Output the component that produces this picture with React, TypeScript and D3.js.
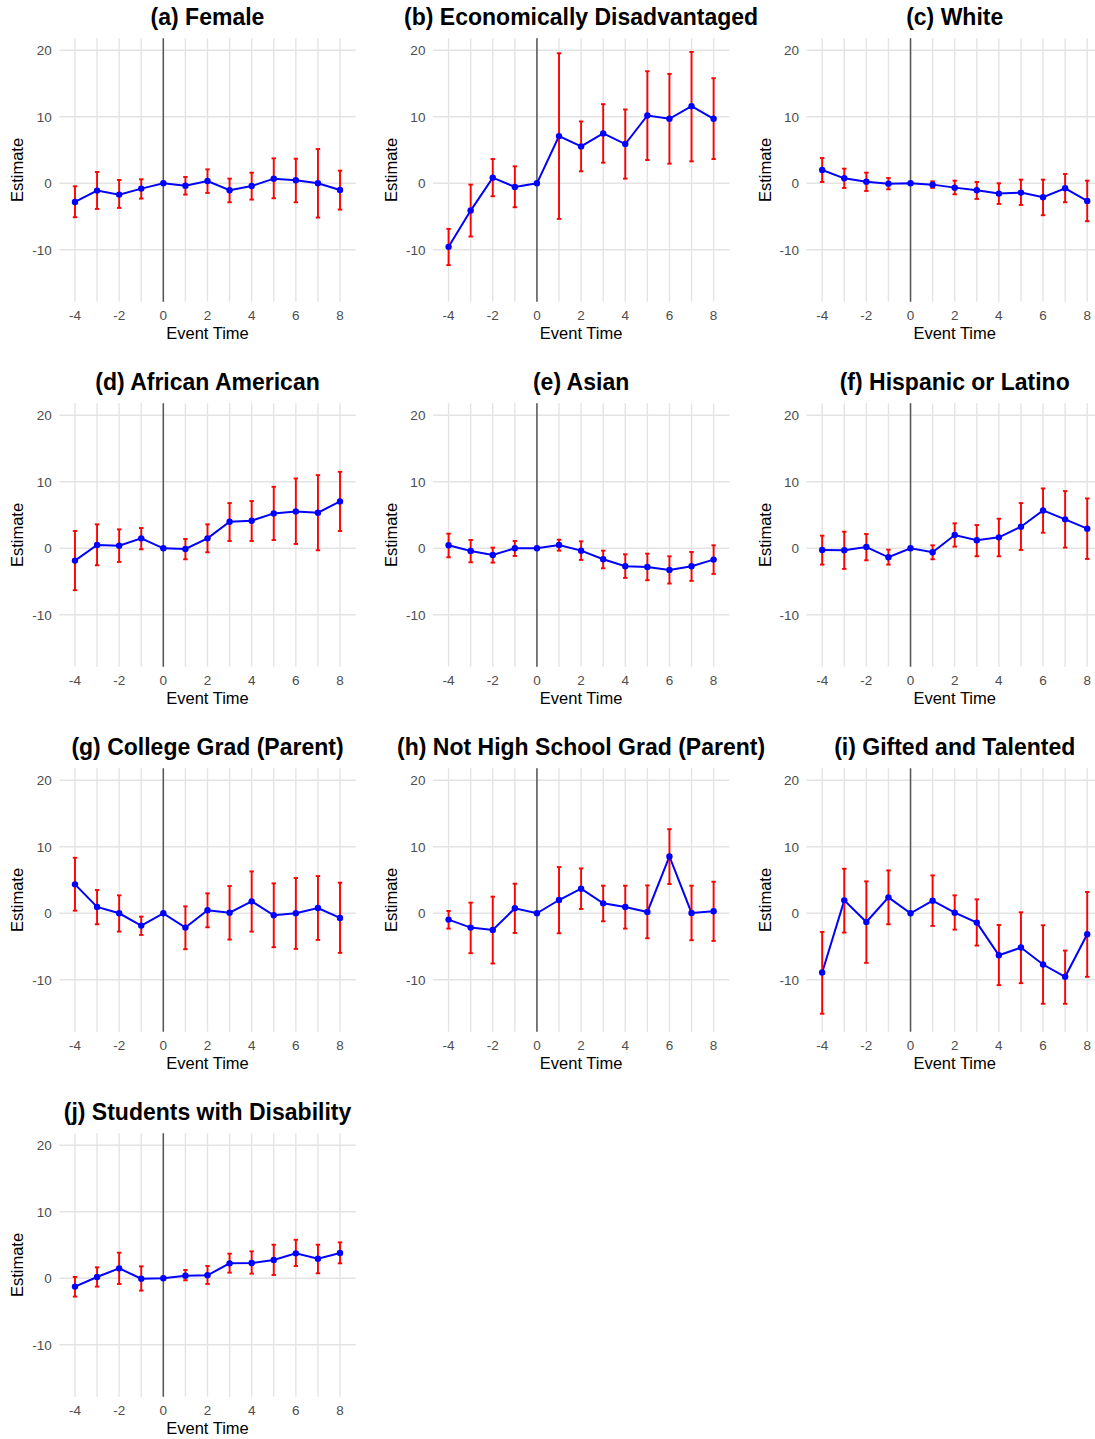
import React from 'react';
import * as d3 from 'd3';

// event-study estimates, one set of arrays per subgroup
const eventTimes = [-4, -3, -2, -1, 0, 1, 2, 3, 4, 5, 6, 7, 8];
const xTicks = [-4, -2, 0, 2, 4, 6, 8];
const yTicks = [-10, 0, 10, 20];

const femaleEst = [-2.8, -1.1, -1.7, -0.8, 0, -0.35, 0.35, -1.05, -0.4, 0.7, 0.45, 0.0, -1.0];
const femaleLo = [-5.1, -3.85, -3.7, -2.3, 0, -1.7, -1.45, -2.85, -2.45, -2.25, -2.85, -5.15, -3.95];
const femaleHi = [-0.45, 1.7, 0.5, 0.6, 0, 0.95, 2.1, 0.7, 1.6, 3.75, 3.7, 5.15, 1.9];

const econEst = [-9.55, -4.1, 0.85, -0.55, 0, 7.1, 5.55, 7.5, 5.9, 10.2, 9.7, 11.6, 9.7];
const econLo = [-12.3, -8.0, -1.95, -3.6, 0, -5.35, 1.8, 3.1, 0.7, 3.5, 2.95, 3.3, 3.65];
const econHi = [-6.85, -0.2, 3.65, 2.55, 0, 19.55, 9.3, 11.9, 11.1, 16.85, 16.45, 19.75, 15.8];

const whiteEst = [2.0, 0.75, 0.25, -0.05, 0, -0.2, -0.65, -1.05, -1.55, -1.4, -2.1, -0.75, -2.65];
const whiteLo = [0.2, -0.7, -1.15, -0.9, 0, -0.7, -1.65, -2.35, -3.1, -3.25, -4.8, -2.85, -5.7];
const whiteHi = [3.8, 2.2, 1.6, 0.8, 0, 0.3, 0.4, 0.2, 0.0, 0.55, 0.55, 1.4, 0.4];

const blackEst = [-1.85, 0.5, 0.4, 1.5, 0, -0.1, 1.5, 4.0, 4.15, 5.25, 5.55, 5.35, 7.05];
const blackLo = [-6.3, -2.55, -2.05, -0.15, 0, -1.65, -0.6, 1.1, 1.1, 1.25, 0.65, -0.3, 2.6];
const blackHi = [2.6, 3.6, 2.85, 3.05, 0, 1.4, 3.6, 6.8, 7.1, 9.25, 10.5, 11.0, 11.5];

const asianEst = [0.45, -0.4, -1.0, 0, 0, 0.5, -0.35, -1.65, -2.7, -2.8, -3.25, -2.7, -1.7];
const asianLo = [-1.35, -2.1, -2.15, -1.15, 0, -0.35, -1.75, -3.0, -4.45, -4.8, -5.3, -4.9, -3.85];
const asianHi = [2.2, 1.25, 0.1, 1.1, 0, 1.3, 1.05, -0.35, -0.9, -0.8, -1.2, -0.55, 0.45];

const hispEst = [-0.25, -0.3, 0.2, -1.35, 0, -0.6, 2.0, 1.2, 1.65, 3.25, 5.7, 4.35, 2.95];
const hispLo = [-2.45, -3.1, -1.8, -2.45, 0, -1.65, 0.25, -1.2, -1.2, -0.25, 2.35, 0.1, -1.6];
const hispHi = [1.9, 2.5, 2.15, -0.2, 0, 0.45, 3.75, 3.5, 4.45, 6.8, 9.0, 8.6, 7.5];

const collegeEst = [4.35, 0.95, 0, -1.85, 0, -2.15, 0.45, 0.1, 1.8, -0.3, 0, 0.8, -0.7];
const collegeLo = [0.4, -1.65, -2.75, -3.25, 0, -5.4, -2.1, -3.95, -2.75, -5.1, -5.35, -4.0, -5.95];
const collegeHi = [8.35, 3.5, 2.7, -0.5, 0, 1.05, 3.0, 4.1, 6.3, 4.5, 5.3, 5.6, 4.6];

const noHsEst = [-0.95, -2.15, -2.5, 0.75, 0, 2.0, 3.7, 1.5, 0.95, 0.2, 8.55, 0.05, 0.3];
const noHsLo = [-2.3, -6.0, -7.55, -2.95, 0, -3.0, 0.65, -1.2, -2.3, -3.75, 4.4, -4.05, -4.15];
const noHsHi = [0.35, 1.6, 2.5, 4.45, 0, 6.95, 6.75, 4.15, 4.15, 4.2, 12.65, 4.15, 4.75];

const giftedEst = [-8.9, 1.95, -1.3, 2.4, 0, 1.9, 0.1, -1.4, -6.3, -5.15, -7.7, -9.55, -3.15];
const giftedLo = [-15.1, -2.9, -7.45, -1.65, 0, -1.9, -2.45, -4.85, -10.8, -10.5, -13.6, -13.6, -9.55];
const giftedHi = [-2.8, 6.7, 4.8, 6.45, 0, 5.7, 2.7, 2.1, -1.75, 0.15, -1.8, -5.6, 3.2];

const disabEst = [-1.25, 0.2, 1.5, -0.05, 0, 0.4, 0.45, 2.25, 2.3, 2.75, 3.75, 2.95, 3.8];
const disabLo = [-2.75, -1.25, -0.85, -1.85, 0, -0.3, -0.85, 0.85, 0.7, 0.5, 1.85, 0.75, 2.25];
const disabHi = [0.2, 1.65, 3.85, 1.8, 0, 1.25, 1.85, 3.7, 4.05, 5.05, 5.8, 5.05, 5.4];

const panels = [
  { title: '(a) Female', est: femaleEst, lo: femaleLo, hi: femaleHi },
  { title: '(b) Economically Disadvantaged', est: econEst, lo: econLo, hi: econHi },
  { title: '(c) White', est: whiteEst, lo: whiteLo, hi: whiteHi },
  { title: '(d) African American', est: blackEst, lo: blackLo, hi: blackHi },
  { title: '(e) Asian', est: asianEst, lo: asianLo, hi: asianHi },
  { title: '(f) Hispanic or Latino', est: hispEst, lo: hispLo, hi: hispHi },
  { title: '(g) College Grad (Parent)', est: collegeEst, lo: collegeLo, hi: collegeHi },
  { title: '(h) Not High School Grad (Parent)', est: noHsEst, lo: noHsLo, hi: noHsHi },
  { title: '(i) Gifted and Talented', est: giftedEst, lo: giftedLo, hi: giftedHi },
  { title: '(j) Students with Disability', est: disabEst, lo: disabLo, hi: disabHi },
];

const width = 1095;
const height = 1439;
const font = "'Liberation Sans', Arial, Helvetica, sans-serif";

/* layout of one panel */
const colStep = 373.6;
const rowStep = 365;
const plotLeft = 59.3;
const plotTop = 38.3;
const plotW = 296.4;
const plotH = 263.4;

const xScale = d3.scaleLinear().domain([-4.71, 8.71]).range([0, plotW]);
const yScale = d3.scaleLinear().domain([-17.8, 21.8]).range([plotH, 0]);

const Panel = ({ p, i }) => {
  const col = i % 3;
  const row = Math.floor(i / 3);
  const tx = plotLeft + col * colStep;
  const ty = plotTop + row * rowStep;
  const pts = eventTimes.map((t, k) => ({ t, est: p.est[k], lo: p.lo[k], hi: p.hi[k] }));
  const line = d3.line().x((d) => xScale(d.t)).y((d) => yScale(d.est));
  const cap = xScale(0.1) - xScale(0);

  return (
    <g transform={`translate(${tx},${ty})`}>
      {/* grid */}
      {yTicks.map((v) => (
        <line key={'h' + v} x1={0} x2={plotW} y1={yScale(v)} y2={yScale(v)} stroke="#E4E4E4" strokeWidth={1.4} />
      ))}
      {eventTimes.map((v) => (
        <line key={'v' + v} x1={xScale(v)} x2={xScale(v)} y1={0} y2={plotH} stroke="#E4E4E4" strokeWidth={1.4} />
      ))}
      <line x1={xScale(0)} x2={xScale(0)} y1={0} y2={plotH} stroke="#555" strokeWidth={1.5} />

      {/* estimate line */}
      <path d={line(pts)} fill="none" stroke="#0000FF" strokeWidth={2} />

      {/* error bars */}
      {pts.filter((d) => d.hi !== d.lo).map((d) => (
        <g key={'e' + d.t} stroke="#FF0000" strokeWidth={1.9}>
          <line x1={xScale(d.t)} x2={xScale(d.t)} y1={yScale(d.hi)} y2={yScale(d.lo)} />
          <line x1={xScale(d.t) - cap} x2={xScale(d.t) + cap} y1={yScale(d.hi)} y2={yScale(d.hi)} />
          <line x1={xScale(d.t) - cap} x2={xScale(d.t) + cap} y1={yScale(d.lo)} y2={yScale(d.lo)} />
        </g>
      ))}

      {pts.map((d) => (
        <circle key={'c' + d.t} cx={xScale(d.t)} cy={yScale(d.est)} r={3.2} fill="#0000FF" />
      ))}

      {/* axes text */}
      {yTicks.map((v) => (
        <text key={'yl' + v} x={-7.5} y={yScale(v)} dy="0.35em" textAnchor="end" fontSize={13.5} fill="#4D4D4D" fontFamily={font}>
          {v}
        </text>
      ))}
      {xTicks.map((v) => (
        <text key={'xl' + v} x={xScale(v)} y={plotH + 18.5} textAnchor="middle" fontSize={13.5} fill="#4D4D4D" fontFamily={font}>
          {v}
        </text>
      ))}
      <text x={plotW / 2} y={plotH + 37.5} textAnchor="middle" fontSize={16.5} fill="#000" fontFamily={font}>
        Event Time
      </text>
      <text transform={`translate(${-36},${plotH / 2}) rotate(-90)`} textAnchor="middle" fontSize={16.5} fill="#000" fontFamily={font}>
        Estimate
      </text>
      <text x={plotW / 2} y={-13.5} textAnchor="middle" fontSize={23} fontWeight="bold" fill="#000" fontFamily={font}>
        {p.title}
      </text>
    </g>
  );
};

const App = () => {
  return (
    <svg width={width} height={height} style={{ position: 'absolute', left: 0, top: 0, background: '#fff' }}>
      <rect width={width} height={height} fill="#fff" />
      {panels.map((p, i) => (
        <Panel key={p.title} p={p} i={i} />
      ))}
    </svg>
  );
};

export default App;
